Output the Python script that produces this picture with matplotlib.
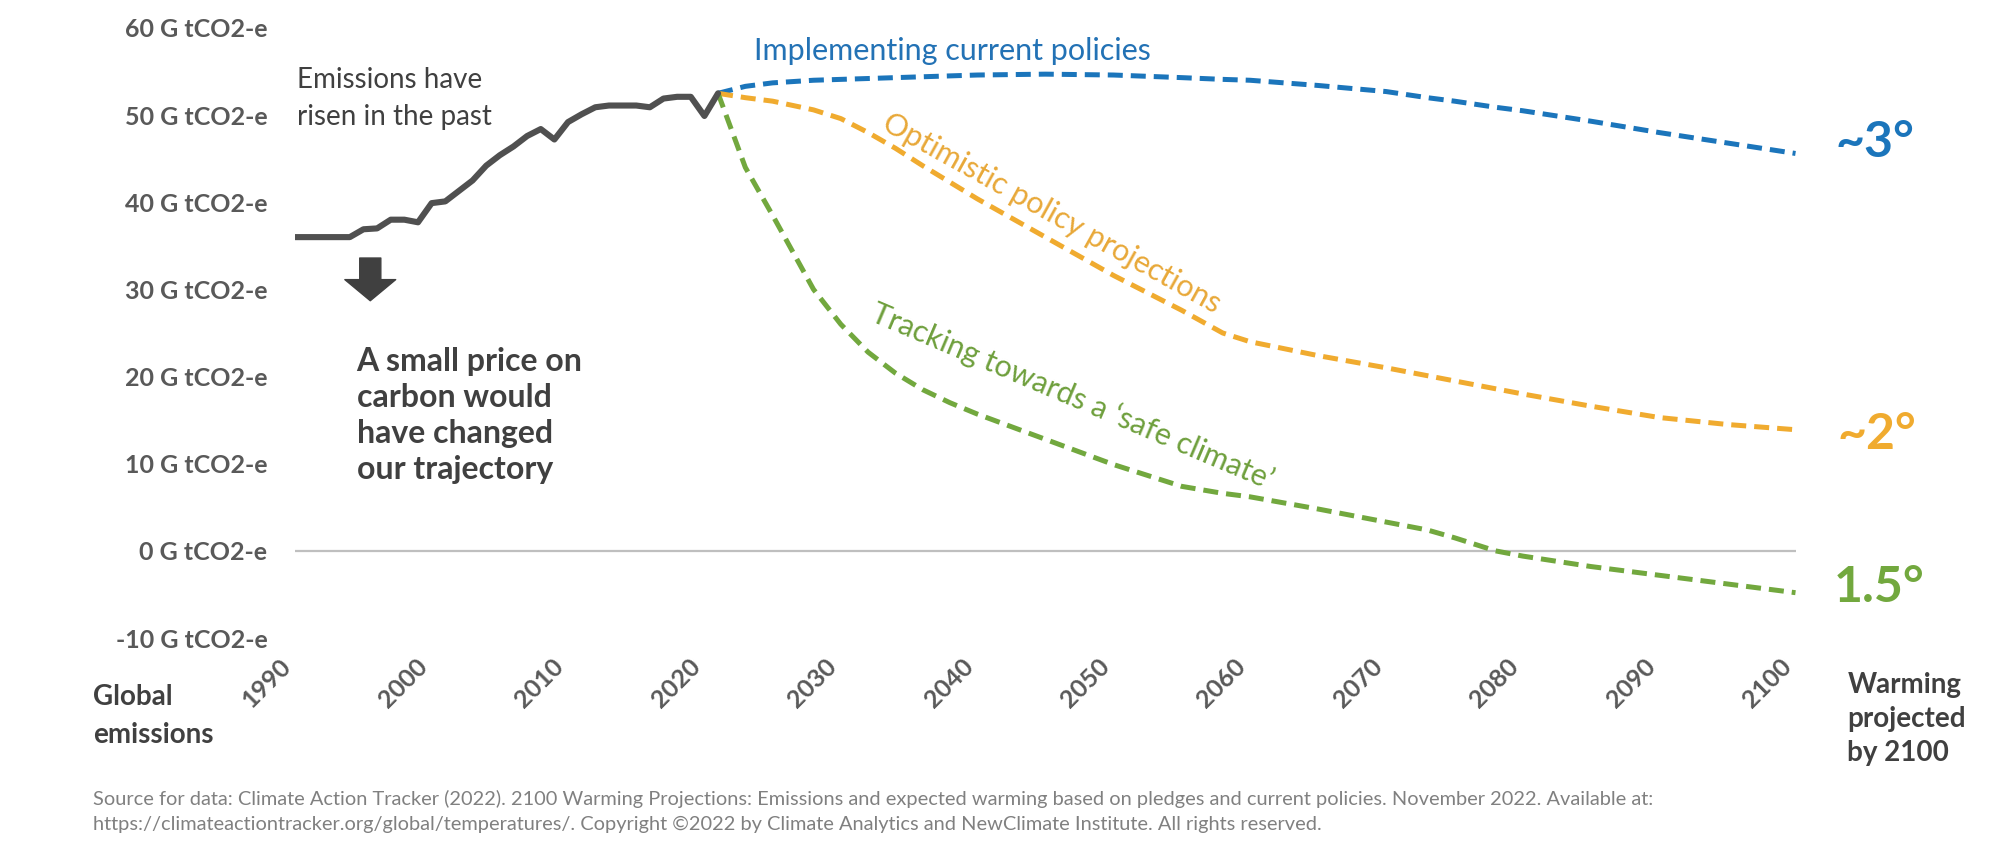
import matplotlib
matplotlib.use("Agg")
import matplotlib.pyplot as plt
from matplotlib.transforms import ScaledTranslation

plt.rcParams["font.family"] = ["Lato", "DejaVu Sans"]

# historical global emissions (G tCO2-e)
hist_years = list(range(1990, 2022))
hist_values = [36.0, 36.0, 36.0, 36.0, 36.0, 36.9, 37.0, 38.0, 38.0, 37.7,
               39.9, 40.1, 41.3, 42.5, 44.2, 45.4, 46.4, 47.6, 48.4, 47.2,
               49.2, 50.1, 50.9, 51.1, 51.1, 51.1, 50.9, 51.9, 52.1, 52.1,
               49.9, 52.5]

# projections
proj_years = [2021, 2023, 2025, 2028, 2030, 2032, 2034, 2036, 2038, 2040,
              2045, 2050, 2055, 2058, 2060, 2065, 2070, 2073, 2075, 2078,
              2080, 2085, 2090, 2095, 2100]
current_policies = [52.5, 53.3, 53.7, 54.0, 54.1, 54.2, 54.3, 54.4, 54.5, 54.6,
                    54.7, 54.6, 54.3, 54.1, 54.0, 53.4, 52.7, 52.0, 51.6, 50.9,
                    50.5, 49.3, 48.0, 46.8, 45.6]
optimistic = [52.5, 52.0, 51.6, 50.6, 49.6, 48.0, 46.2, 44.2, 42.3, 40.4,
              36.0, 31.6, 27.6, 25.0, 24.0, 22.4, 21.0, 20.1, 19.5, 18.6,
              18.0, 16.6, 15.3, 14.5, 13.9]
safe_climate = [52.5, 44.0, 38.5, 30.0, 26.0, 22.8, 20.4, 18.5, 17.0, 15.7,
                12.8, 9.9, 7.4, 6.6, 6.2, 4.8, 3.3, 2.4, 1.5, 0.0,
                -0.6, -1.8, -2.8, -3.8, -4.8]

y_ticks = [-10, 0, 10, 20, 30, 40, 50, 60]
x_ticks = list(range(1990, 2101, 10))

grey = "#595959"
dark = "#404040"
blue = "#1B75BB"
orange = "#F0AB2F"
green = "#72A83E"

fig = plt.figure(figsize=(19.95, 8.55), dpi=100)
ax = fig.add_axes([0.148, 0.2538, 0.752, 0.7135])

ax.axhline(0, color="#BFBFBF", lw=1.6, zorder=1)
ax.plot(hist_years, hist_values, color="#505050", lw=4.4,
        solid_joinstyle="round", solid_capstyle="round", zorder=3)
for vals, col in [(current_policies, blue), (optimistic, orange), (safe_climate, green)]:
    ax.plot(proj_years, vals, color=col, lw=3.6, dashes=(3, 1.6), zorder=2)

ax.set_xlim(1990, 2100)
ax.set_ylim(-10, 60)
for s in ax.spines.values():
    s.set_visible(False)
ax.set_yticks(y_ticks)
ax.set_yticklabels([f"{v} G tCO2-e" for v in y_ticks])
ax.set_xticks(x_ticks)
ax.set_xticklabels([str(v) for v in x_ticks], rotation=45, ha="right", va="top",
                   rotation_mode="anchor")
ax.tick_params(axis="y", length=0, pad=20, labelsize=18, labelcolor=grey)
ax.tick_params(axis="x", length=0, pad=12, labelsize=18, labelcolor=grey)
shift = ScaledTranslation(-0.16, 0, fig.dpi_scale_trans)
for lab in ax.get_xticklabels():
    lab.set_transform(lab.get_transform() + shift)
for lab in ax.get_xticklabels() + ax.get_yticklabels():
    lab.set_fontweight("bold")

# annotations
ax.text(1990.1, 51.9, "Emissions have\nrisen in the past", fontsize=20, color=dark,
        ha="left", va="center", linespacing=1.49)
ax.text(1994.5, 15.5, "A small price on\ncarbon would\nhave changed\nour trajectory",
        fontsize=23, color=dark, fontweight="bold", ha="left", va="center", linespacing=1.29)
ax.annotate("", xy=(1995.5, 28.7), xytext=(1995.5, 33.6),
            arrowprops=dict(arrowstyle="simple,head_length=0.76,head_width=1.83,tail_width=0.76",
                            color=dark, shrinkA=0, shrinkB=0, mutation_scale=20))

ax.text(2023.6, 57.4, "Implementing current policies", fontsize=22, color="#2372B5",
        ha="left", va="center")
ax.text(2045.5, 38.7, "Optimistic policy projections", fontsize=22, color="#E8A838",
        ha="center", va="center", rotation=-29, rotation_mode="anchor")
ax.text(2047, 17.7, "Tracking towards a \u2018safe climate\u2019", fontsize=22, color="#6E9F3C",
        ha="center", va="center", rotation=-23, rotation_mode="anchor")

ax.text(2105.8, 46.9, "~3°", fontsize=36, color=blue, fontweight="bold",
        ha="center", va="center", clip_on=False)
ax.text(2106.0, 13.3, "~2°", fontsize=36, color=orange, fontweight="bold",
        ha="center", va="center", clip_on=False)
ax.text(2106.1, -4.2, "1.5°", fontsize=36, color=green, fontweight="bold",
        ha="center", va="center", clip_on=False)

fig.text(0.0466, 0.1626, "Global\nemissions", fontsize=20, color=dark, fontweight="bold",
         ha="left", va="center", linespacing=1.53)
fig.text(0.926, 0.159, "Warming\nprojected\nby 2100", fontsize=20, color=dark, fontweight="bold",
         ha="left", va="center", linespacing=1.38)

fig.text(0.0466, 0.0655,
         "Source for data: Climate Action Tracker (2022). 2100 Warming Projections: Emissions and expected "
         "warming based on pledges and current policies. November 2022. Available at:",
         fontsize=14.4, color="#808080", ha="left", va="center")
fig.text(0.0466, 0.036,
         "https://climateactiontracker.org/global/temperatures/. Copyright \u00a92022 by Climate "
         "Analytics and NewClimate Institute. All rights reserved.",
         fontsize=14.4, color="#808080", ha="left", va="center")

fig.savefig("out.png", dpi=100)
